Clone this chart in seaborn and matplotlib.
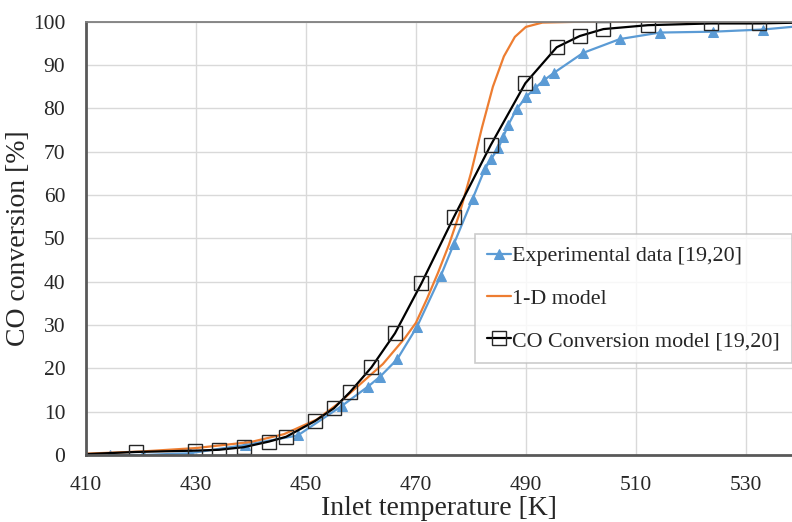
import numpy as np
import pandas as pd
import seaborn as sns
import matplotlib
matplotlib.use("Agg")
import matplotlib.pyplot as plt

sns.set_style("white")
plt.rcParams['font.family'] = ['Liberation Serif', 'DejaVu Serif']

# experimental data [19,20] (blue triangles); last point is line end only
exp_temp = [414.4, 420.4, 428.9, 438.9, 448.5, 456.5, 461.3, 463.5, 466.6, 470.2,
            474.5, 476.9, 480.3, 482.5, 483.6, 485.0, 485.9, 486.8, 488.3, 490.1,
            491.6, 493.3, 495.1, 500.4, 507.1, 514.4, 524.1, 533.1, 540.0]
exp_conv = [0.0, 0.0, 0.4, 2.3, 4.5, 11.3, 15.8, 18.1, 22.1, 29.6,
            41.3, 48.7, 59.1, 65.9, 68.2, 70.8, 73.5, 76.2, 79.8, 82.7,
            84.6, 86.5, 88.2, 92.8, 96.0, 97.5, 97.7, 98.2, 99.0]

# 1-D model (orange line, no markers)
model_temp = [410, 420, 430, 440, 446, 452, 456, 460, 464, 468, 470, 472, 474,
              476, 478, 480, 482, 484, 486, 488, 490, 493, 500, 540]
model_conv = [0.3, 0.8, 1.6, 3.0, 4.8, 8.2, 12.0, 16.5, 21.0, 27.0, 30.5, 36.0,
              42.0, 48.5, 56.0, 65.0, 75.5, 85.0, 92.0, 96.5, 98.8, 99.8, 100.0, 100.0]

# CO conversion model [19,20] (black line, open squares); first/last are line ends
co_temp = [410.0, 419.1, 429.8, 434.2, 438.7, 443.3, 446.4, 451.6, 455.1, 458.0,
           461.9, 466.2, 471.0, 476.9, 483.6, 489.9, 495.6, 499.8, 504.1, 512.2,
           523.6, 532.4, 540.0]
co_conv = [0.2, 0.7, 1.0, 1.2, 1.8, 3.1, 4.2, 7.8, 10.8, 14.5,
           20.2, 28.1, 39.6, 54.9, 71.5, 85.8, 94.1, 96.7, 98.3, 99.2,
           99.6, 99.6, 99.8]

x_ticks = [410, 430, 450, 470, 490, 510, 530]
y_ticks = [0, 10, 20, 30, 40, 50, 60, 70, 80, 90, 100]

blue = "#5B9BD5"
orange = "#ED7D31"

fig = plt.figure(figsize=(7.92, 5.22), dpi=100)
ax = fig.add_axes([0.1086, 0.1284, 0.8914, 0.83])

exp_df = pd.DataFrame({"T": exp_temp, "X": exp_conv})
mod_df = pd.DataFrame({"T": model_temp, "X": model_conv})
co_df = pd.DataFrame({"T": co_temp, "X": co_conv})

sns.lineplot(data=exp_df, x="T", y="X", ax=ax, color=blue, lw=1.6,
             marker="^", markersize=7, markeredgecolor=blue,
             markevery=list(range(len(exp_temp) - 1)),
             label="Experimental data [19,20]", sort=False)
sns.lineplot(data=mod_df, x="T", y="X", ax=ax, color=orange, lw=1.6,
             label="1-D model", sort=False)
sns.lineplot(data=co_df, x="T", y="X", ax=ax, color="black", lw=1.6,
             marker="s", markersize=10, markerfacecolor="none",
             markeredgecolor="#262626", markeredgewidth=1.0,
             markevery=list(range(1, len(co_temp) - 1)),
             label="CO Conversion model [19,20]", sort=False)

ax.set_xlim(410, 538.4)
ax.set_ylim(0, 100)
ax.set_xticks(x_ticks)
ax.set_yticks(y_ticks)
ax.grid(True, color="#D9D9D9", lw=1)
ax.set_axisbelow(True)
ax.tick_params(axis="x", length=0, pad=15, labelsize=15.5)
ax.tick_params(axis="y", length=0, pad=15, labelsize=15.5)

for s in ["left", "bottom"]:
    ax.spines[s].set_color("#595959")
    ax.spines[s].set_linewidth(2)
ax.spines["top"].set_color("#7F7F7F")
ax.spines["top"].set_linewidth(1.3)
ax.spines["right"].set_visible(False)

ax.set_xlabel("Inlet temperature [K]", fontsize=20, labelpad=1)
ax.set_ylabel("CO conversion [%]", fontsize=20, labelpad=1)

leg = ax.legend(loc="upper left", bbox_to_anchor=(0.551, 0.51), fontsize=15.8,
                frameon=True, fancybox=False, edgecolor="#BFBFBF",
                handlelength=1.1, handletextpad=0.05, borderpad=0.55,
                labelspacing=1.0, borderaxespad=0)
leg.get_frame().set_linewidth(1.2)

fig.savefig("out.png", dpi=100)
